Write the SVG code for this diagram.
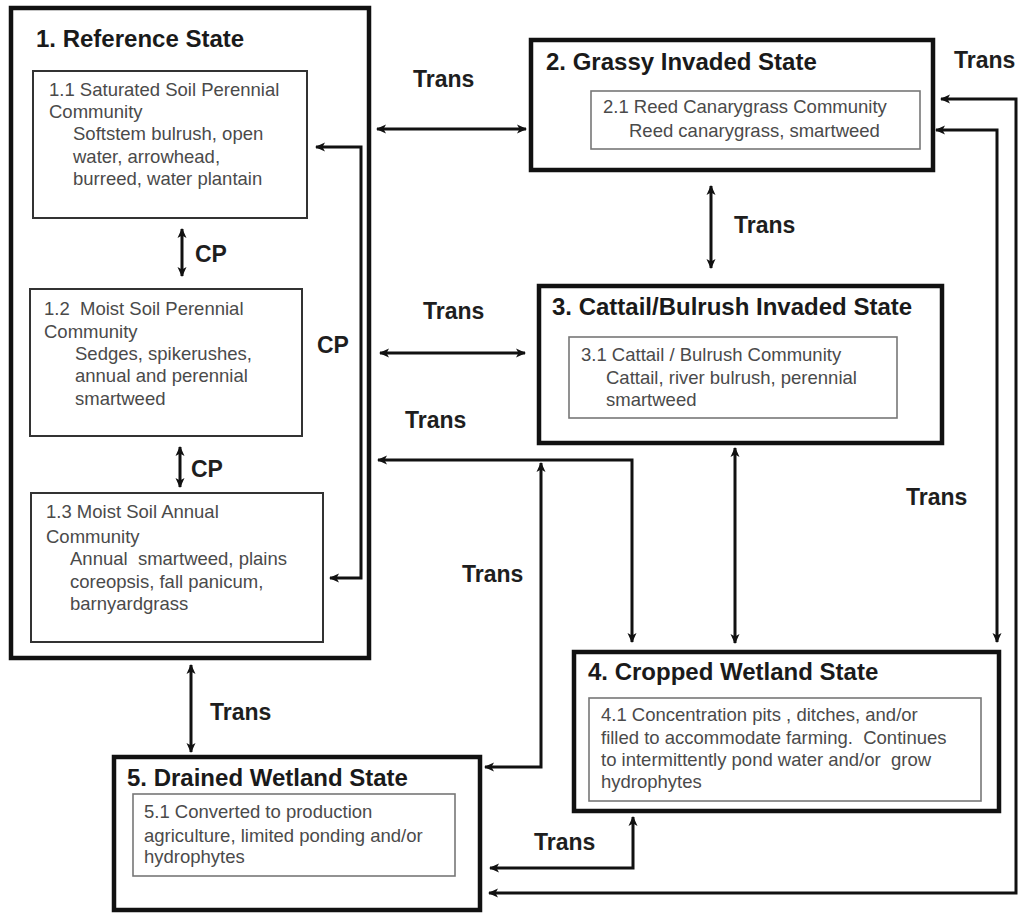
<svg xmlns="http://www.w3.org/2000/svg" width="1019" height="915" viewBox="0 0 1019 915">
<style>
.bg{fill:#ffffff}
.state{fill:#ffffff;stroke:#111;stroke-width:4.5}
.comm{fill:#ffffff;stroke:#333;stroke-width:2}
.commL{fill:#ffffff;stroke:#777;stroke-width:1.6}
.title{font-family:"Liberation Sans",Arial,sans-serif;font-weight:bold;font-size:24px;fill:#1a1a1a}
.body{font-family:"Liberation Sans",Arial,sans-serif;font-size:18.5px;fill:#4a4a4a;white-space:pre}
.lbl{font-family:"Liberation Sans",Arial,sans-serif;font-weight:bold;font-size:23px;fill:#1e1e1e}
.conn{fill:none;stroke:#111;stroke-width:3;marker-start:url(#ah);marker-end:url(#ah)}
</style>
<defs>
<marker id="ah" viewBox="0 0 10 10" refX="9" refY="5" markerUnits="userSpaceOnUse" markerWidth="12" markerHeight="10" orient="auto-start-reverse">
<path d="M0,0.5 L10,5 L0,9.5 L2.5,5 z" fill="#111"/>
</marker>
</defs>
<rect class="bg" x="0" y="0" width="1019" height="915"/>

<g id="state1">
<rect class="state" x="11" y="8" width="358" height="650"/>
<text class="title" x="36" y="47">1. Reference State</text>
<g id="comm1-1">
<rect class="comm" x="33" y="71" width="274" height="147"/>
<text class="body" x="49" y="96">1.1 Saturated Soil Perennial</text>
<text class="body" x="49" y="118">Community</text>
<text class="body" x="73" y="140">Softstem bulrush, open</text>
<text class="body" x="73" y="163">water, arrowhead,</text>
<text class="body" x="73" y="185">burreed, water plantain</text>
</g>
<g id="comm1-2">
<rect class="comm" x="30" y="289" width="272" height="147"/>
<text class="body" x="44" y="315">1.2  Moist Soil Perennial</text>
<text class="body" x="44" y="338">Community</text>
<text class="body" x="75" y="360">Sedges, spikerushes,</text>
<text class="body" x="75" y="382">annual and perennial</text>
<text class="body" x="75" y="405">smartweed</text>
</g>
<g id="comm1-3">
<rect class="comm" x="31" y="493" width="292" height="149"/>
<text class="body" x="46" y="518">1.3 Moist Soil Annual</text>
<text class="body" x="46" y="543">Community</text>
<text class="body" x="70" y="565">Annual  smartweed, plains</text>
<text class="body" x="70" y="588">coreopsis, fall panicum,</text>
<text class="body" x="70" y="610">barnyardgrass</text>
</g>
</g>

<g id="state2">
<rect class="state" x="531" y="40" width="402" height="130"/>
<text class="title" x="546" y="70">2. Grassy Invaded State</text>
<rect class="commL" x="591" y="91" width="329" height="58"/>
<text class="body" x="603" y="113">2.1 Reed Canarygrass Community</text>
<text class="body" x="629" y="137">Reed canarygrass, smartweed</text>
</g>

<g id="state3">
<rect class="state" x="539" y="286" width="403" height="157"/>
<text class="title" x="552" y="315">3. Cattail/Bulrush Invaded State</text>
<rect class="commL" x="569" y="337" width="328" height="81"/>
<text class="body" x="581" y="361">3.1 Cattail / Bulrush Community</text>
<text class="body" x="606" y="384">Cattail, river bulrush, perennial</text>
<text class="body" x="606" y="406">smartweed</text>
</g>

<g id="state4">
<rect class="state" x="574" y="652" width="425" height="159"/>
<text class="title" x="588" y="680">4. Cropped Wetland State</text>
<rect class="commL" x="589" y="698" width="392" height="103"/>
<text class="body" x="601" y="721">4.1 Concentration pits , ditches, and/or</text>
<text class="body" x="601" y="744">filled to accommodate farming.  Continues</text>
<text class="body" x="601" y="766">to intermittently pond water and/or  grow</text>
<text class="body" x="601" y="788">hydrophytes</text>
</g>

<g id="state5">
<rect class="state" x="114" y="757" width="366" height="153"/>
<text class="title" x="127" y="786">5. Drained Wetland State</text>
<rect class="commL" x="133" y="794" width="322" height="82"/>
<text class="body" x="144" y="818">5.1 Converted to production</text>
<text class="body" x="144" y="842">agriculture, limited ponding and/or</text>
<text class="body" x="144" y="863">hydrophytes</text>
</g>

<g id="connectors">
<line class="conn" x1="182" y1="229" x2="182" y2="276"/>
<line class="conn" x1="180" y1="447" x2="180" y2="487"/>
<polyline class="conn" points="330,578 361,578 361,147 316,147"/>
<line class="conn" x1="377" y1="129" x2="526" y2="129"/>
<line class="conn" x1="711" y1="186" x2="711" y2="268"/>
<line class="conn" x1="380" y1="353" x2="525" y2="353"/>
<polyline class="conn" points="378,460 632,460 632,642"/>
<polyline class="conn" points="485,767 541,767 541,463"/>
<line class="conn" x1="735" y1="448" x2="735" y2="643"/>
<polyline class="conn" points="936,130 997,130 997,642"/>
<polyline class="conn" points="941,99 1016,99 1016,893 489,893"/>
<polyline class="conn" points="490,868 633,868 633,817"/>
<line class="conn" x1="191" y1="665" x2="191" y2="752"/>
</g>

<g id="labels">
<text class="lbl" x="195" y="262">CP</text>
<text class="lbl" x="191" y="477">CP</text>
<text class="lbl" x="317" y="353">CP</text>
<text class="lbl" x="413" y="87">Trans</text>
<text class="lbl" x="954" y="68">Trans</text>
<text class="lbl" x="734" y="233">Trans</text>
<text class="lbl" x="423" y="319">Trans</text>
<text class="lbl" x="405" y="428">Trans</text>
<text class="lbl" x="462" y="582">Trans</text>
<text class="lbl" x="906" y="505">Trans</text>
<text class="lbl" x="210" y="720">Trans</text>
<text class="lbl" x="534" y="850">Trans</text>
</g>
</svg>
